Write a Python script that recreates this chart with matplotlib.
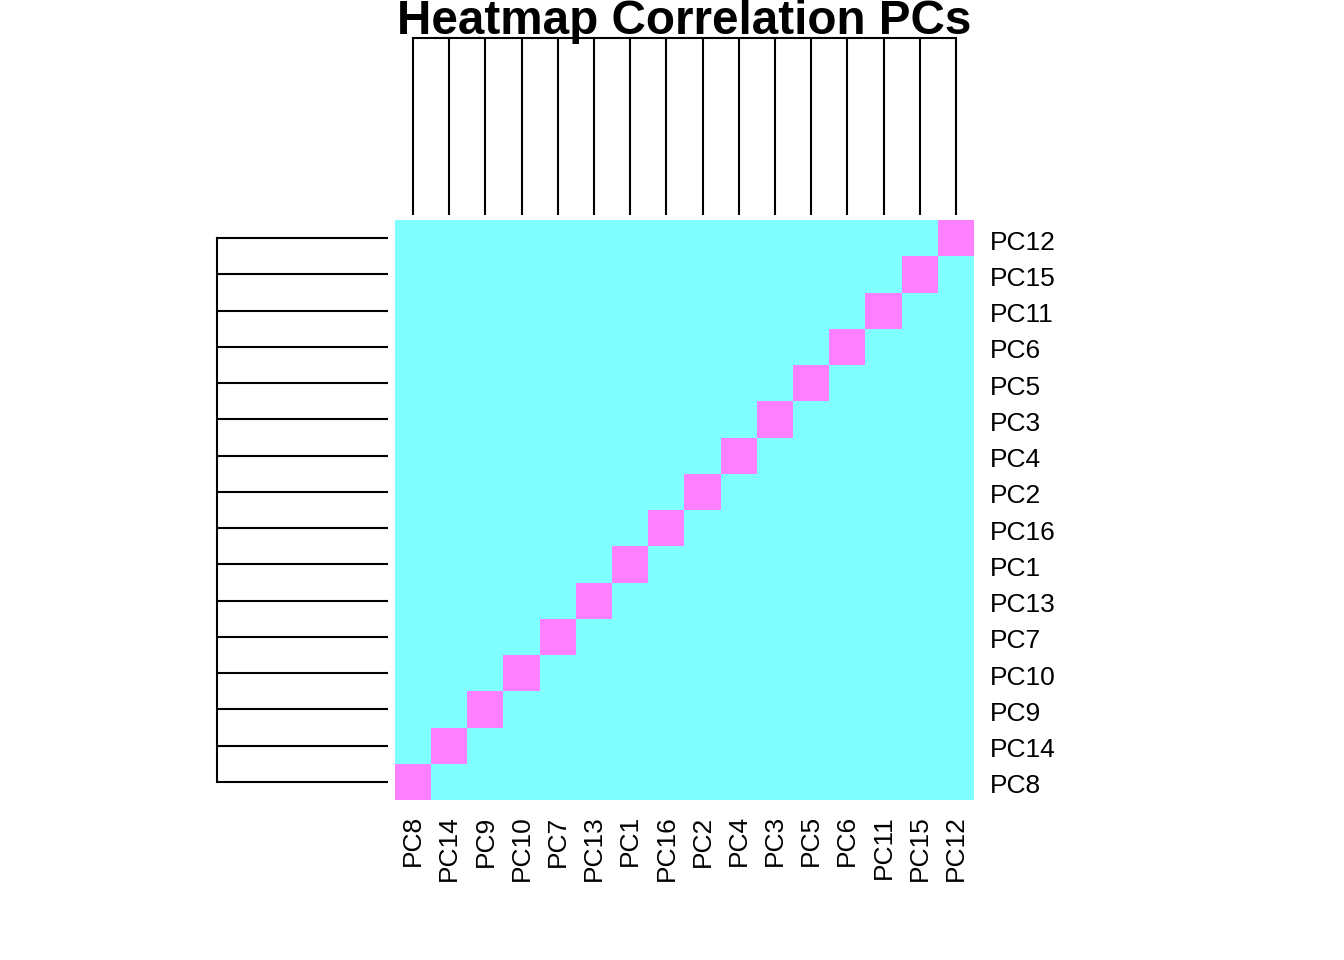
import numpy as np
import matplotlib
matplotlib.use("Agg")
import matplotlib.pyplot as plt
from matplotlib.colors import ListedColormap
from matplotlib.transforms import ScaledTranslation

plt.rcParams['font.family'] = ['Liberation Sans', 'DejaVu Sans']

# Column order (left to right) and row order (bottom to top)
col_labels = ["PC8", "PC14", "PC9", "PC10", "PC7", "PC13", "PC1", "PC16",
              "PC2", "PC4", "PC3", "PC5", "PC6", "PC11", "PC15", "PC12"]
row_labels = ["PC8", "PC14", "PC9", "PC10", "PC7", "PC13", "PC1", "PC16",
              "PC2", "PC4", "PC3", "PC5", "PC6", "PC11", "PC15", "PC12"]
# correlation values: 1 for same PC, 0 otherwise (principal components are uncorrelated)
corr_values = [[1.0 if r == c else 0.0 for c in col_labels] for r in row_labels]
colors = ["#80FFFF", "#FF80FF"]
title = "Heatmap Correlation PCs"
merge_height = 1.0  # all leaves join at one height

W, H = 1344, 960
fig = plt.figure(figsize=(W / 100, H / 100), dpi=100)

def ax_px(x0, y0, x1, y1):
    return fig.add_axes([x0 / W, 1 - y1 / H, (x1 - x0) / W, (y1 - y0) / H])

n = len(col_labels)
ax = ax_px(395, 220, 974, 800)
ax.imshow(np.array(corr_values), cmap=ListedColormap(colors), vmin=0, vmax=1,
          aspect='auto', origin='lower', interpolation='nearest',
          extent=(-0.5, n - 0.5, -0.5, n - 0.5))
ax.set_xlim(-0.5, n - 0.5)
ax.set_ylim(-0.5, n - 0.5)
for s in ax.spines.values():
    s.set_visible(False)
ax.set_xticks(range(n))
ax.set_xticklabels(col_labels, rotation=90, fontsize=19, va='top')
ax.set_yticks(range(n))
ax.set_yticklabels(row_labels, fontsize=19)
ax.yaxis.tick_right()
ax.tick_params(axis='x', length=0, pad=11)
ax.tick_params(axis='y', length=0, pad=11.5)
off = ScaledTranslation(0, -2 / 100, fig.dpi_scale_trans)
for lab in ax.get_yticklabels():
    lab.set_transform(lab.get_transform() + off)

lw = 1.5
# column dendrogram
axc = ax_px(395, 38, 974, 215)
for i in range(n):
    axc.plot([i, i], [0, merge_height], color='black', lw=lw, solid_capstyle='butt', clip_on=False)
axc.plot([0, n - 1], [merge_height, merge_height], color='black', lw=lw, clip_on=False)
axc.set_xlim(-0.5, n - 0.5)
axc.set_ylim(0, merge_height)
axc.axis('off')

# row dendrogram
axr = ax_px(217, 220, 388, 800)
for i in range(n):
    axr.plot([0, merge_height], [i, i], color='black', lw=lw, solid_capstyle='butt', clip_on=False)
axr.plot([merge_height, merge_height], [0, n - 1], color='black', lw=lw, clip_on=False)
axr.set_ylim(-0.5, n - 0.5)
axr.set_xlim(merge_height, 0)
axr.axis('off')

fig.text(684 / W, 1 - 34 / H, title, ha='center', va='baseline',
         fontsize=34.3, fontweight='bold')

fig.savefig("out.png", dpi=100, facecolor='white')
